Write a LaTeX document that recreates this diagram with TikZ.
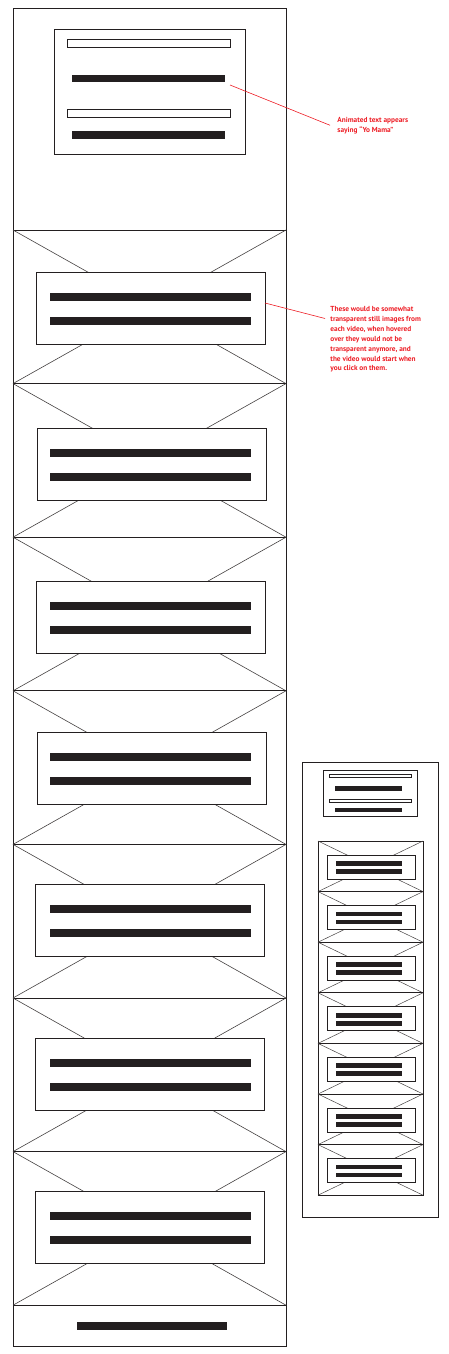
\documentclass[tikz,border=0pt]{standalone}
\usepackage{fontspec}
\newfontfamily\notefont{PT Sans}
\usepackage{tikz}
\usepackage{xcolor}
\definecolor{notered}{RGB}{237,28,36}
\definecolor{ink}{RGB}{35,31,32}

\begin{document}
\begin{tikzpicture}[x=1pt,y=-1pt,line width=0.9pt,color=ink,
    bar/.style={fill=ink,draw=none},
    hollowbar/.style={draw=ink,fill=white,line width=0.8pt},
    cross/.style={draw=ink!85,line width=0.6pt},
    thumb/.style={draw=ink,fill=white},
    note/.style={text=notered,font=\notefont\bfseries\fontsize{7.3}{9.9}\selectfont,
      align=left,inner sep=0pt,anchor=north west}]
        \useasboundingbox (0,0) rectangle (448,1354);
        % full page
        \draw (13,8) rectangle (286,1346);
        \draw (54,29) rectangle (245,154);
        \draw[hollowbar] (67,39) rectangle (230,47);
        \fill[bar] (72,75) rectangle (225,82);
        \draw[hollowbar] (67,109) rectangle (230,117);
        \fill[bar] (72,131) rectangle (225,139);
        % video strips
        \foreach \t/\bx/\by in {230/36/272, 383.6/37/428, 537.2/36/581, 690.8/37/732,
            844.4/35/884, 998/35/1038, 1151.6/35/1191}{
            \draw (13,\t) rectangle (286,\t+153.6);
            \draw[cross] (13,\t) -- (286,\t+153.6) (286,\t) -- (13,\t+153.6);
            \draw[thumb] (\bx,\by) rectangle (\bx+229,\by+72);
            \fill[bar] (50,\by+21) rectangle (251,\by+28.5);
            \fill[bar] (50,\by+45) rectangle (251,\by+52.5);
        }
        \fill[bar] (77,1322) rectangle (227,1329.5);
        % small page
        \draw (302,762) rectangle (438,1217);
        \draw (323,770) rectangle (417,816);
        \draw[hollowbar,line width=0.6pt] (329,774) rectangle (411,777.5);
        \fill[bar] (335,786) rectangle (402,791);
        \draw[hollowbar,line width=0.6pt] (329,799.3) rectangle (411,802.5);
        \fill[bar] (335,808) rectangle (402,812);
        \foreach \i in {0,...,6}{
            \pgfmathsetmacro\s{841+50.6*\i}
            \draw (318,\s) rectangle (423,\s+50.6);
            \draw[cross,line width=0.5pt] (318,\s) -- (423,\s+50.6) (423,\s) -- (318,\s+50.6);
            \draw[thumb,line width=0.8pt] (327.5,\s+14) rectangle (415,\s+38);
            \fill[bar] (336,\s+20) rectangle (402,\s+24.7);
            \fill[bar] (336,\s+28) rectangle (402,\s+32.7);
        }
        % notes
        \coordinate (bannerpt) at (230,85);
        \node[note] (bannernote) at (337,116.5) {Animated text appears\\saying “Yo Mama”};
        \draw[notered,line width=0.6pt] (bannerpt) -- ([xshift=-7pt]bannernote.west);
        \coordinate (thumbpt) at (265,303);
        \node[note] (thumbnote) at (330,306) {These would be somewhat\\transparent still images from\\each video, when hovered\\over they would not be\\transparent anymore, and\\the video would start when\\you click on them.};
        \draw[notered,line width=0.6pt] (thumbpt) -- ([shift={(-5,12.5)}]thumbnote.north west);
    \end{tikzpicture}
\end{document}
